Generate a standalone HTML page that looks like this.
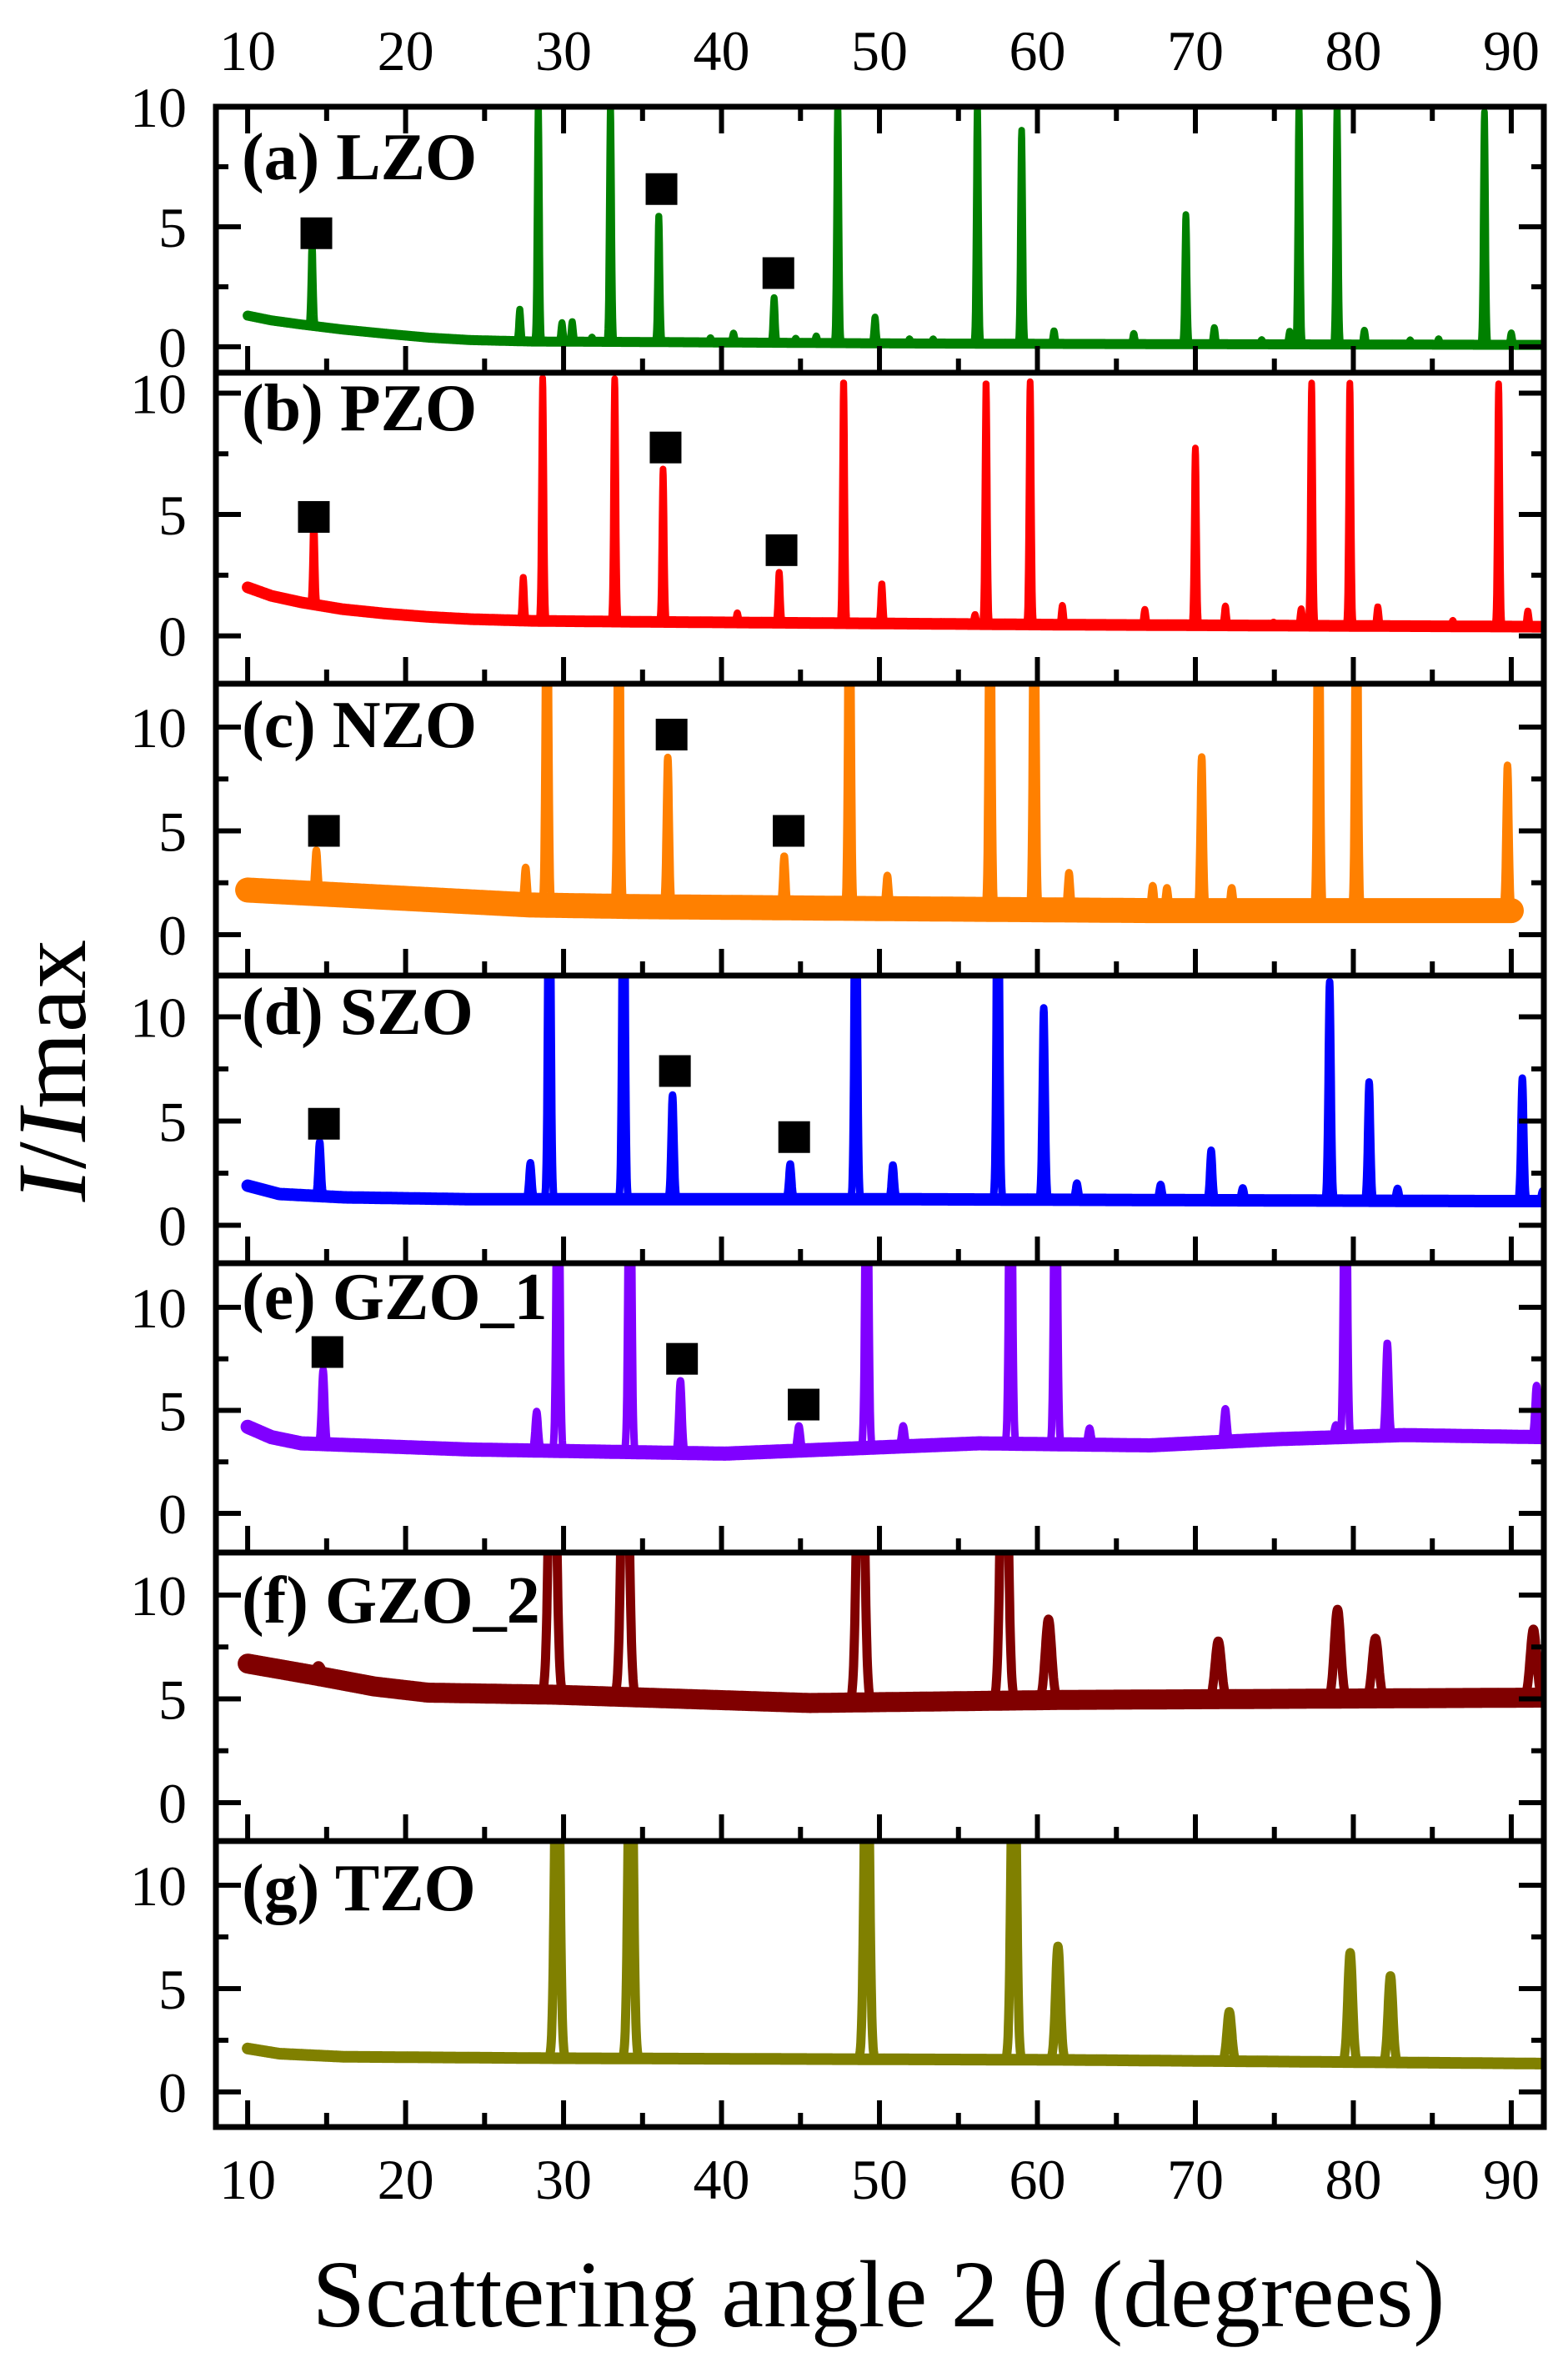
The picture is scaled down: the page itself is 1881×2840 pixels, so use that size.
<!DOCTYPE html>
<html><head><meta charset="utf-8"><style>
html,body{margin:0;padding:0;background:#fff;}
svg{display:block;font-family:"Liberation Serif",serif;}
</style></head><body>
<svg id="chart" width="1881" height="2840" viewBox="0 0 1881 2840" xmlns="http://www.w3.org/2000/svg">
<g id="panels"></g>
<g id="axes"></g>
<text transform="translate(102,1284) rotate(-90)" text-anchor="middle" font-size="118"><tspan font-style="italic">I</tspan>/<tspan font-style="italic">I</tspan>max</text>
<text x="1054" y="2790" text-anchor="middle" font-size="114">Scattering angle 2 θ (degrees)</text>
</svg>
<script>
// ---- x axis ----
const xTicks = [10,20,30,40,50,60,70,80,90];
const xTickLabels = ["10","20","30","40","50","60","70","80","90"];
const yTicks = [0,5,10];
const yTickLabels = ["0","5","10"];
const panelLabels = ["(a) LZO","(b) PZO","(c) NZO","(d) SZO","(e) GZO_1","(f) GZO_2","(g) TZO"];

// ---- peak data (2theta position, normalised height) ----
const lzoPeakPos = [14.08,27.23,28.4,29.9,30.55,31.8,32.97,36.03,39.3,40.76,43.33,44.7,46.0,47.36,49.72,51.9,53.4,56.2,59.0,61.05,66.1,69.4,71.2,74.2,75.97,76.56,78.97,80.7,83.6,85.4,88.3,90.0];
const lzoPeakH   = [3.5,1.35,10,0.8,0.85,0.2,10,5.3,0.2,0.4,1.9,0.2,0.3,10,1.1,0.2,0.2,10,8.9,0.55,0.45,5.4,0.7,0.2,0.55,10,10,0.6,0.2,0.25,9.7,0.5];
const lzoBaseX = [10,11.5,13.4,16,18.8,21.5,24.1,28,34.8,50.9,61.7,91.6];
const lzoBaseY = [1.3,1.1,0.93,0.72,0.54,0.38,0.28,0.22,0.2,0.14,0.12,0.08];
const lzoMarkX = [14.35,36.2,43.6];
const lzoMarkY = [4.73,6.57,3.07];

const pzoPeakPos = [14.19,27.45,28.68,33.24,36.3,41.0,43.65,47.73,50.15,53.9,56.05,56.75,59.54,61.58,66.8,70.0,71.9,74.95,76.7,77.36,79.78,81.55,86.3,89.2,91.05];
const pzoPeakH   = [3.6,1.8,10,10,6.3,0.4,2.1,10,1.65,0.1,0.4,10,10,0.8,0.65,7.3,0.8,0.15,0.7,10,10,0.8,0.25,10,0.65];
const pzoBaseX = [10,11.5,13.4,16,18.7,21.5,24.1,28,34.8,61.7,91.6];
const pzoBaseY = [2.0,1.65,1.38,1.1,0.92,0.78,0.69,0.62,0.58,0.46,0.38];
const pzoMarkX = [14.19,36.46,43.8];
const pzoMarkY = [4.9,7.76,3.53];

const nzoPeakPos = [14.35,27.6,28.95,33.5,36.6,43.97,48.1,50.5,57.0,59.8,62.0,67.3,68.2,70.4,72.3,77.8,80.2,89.76];
const nzoPeakH   = [2.1,1.8,20,20,7.2,2.5,20,1.6,20,20,1.8,1.2,1.1,7.4,1.1,20,20,7.0];
const nzoBaseX = [10,18.7,27.9,34.8,51.0,67.1,90];
const nzoBaseY = [2.15,1.8,1.43,1.35,1.25,1.16,1.16];
const nzoMarkX = [14.83,36.84,44.25];
const nzoMarkY = [5.0,9.64,5.0];

const szoPeakPos = [14.56,27.9,29.1,33.8,36.9,44.35,48.5,50.85,57.5,60.4,62.5,67.8,71.0,73.0,78.5,81.0,82.8,90.7,92];
const szoPeakH   = [2.6,1.75,20,20,5.0,1.7,20,1.65,20,9.2,0.8,0.75,2.4,0.6,10.5,5.7,0.6,5.9,0.5];
const szoBaseX = [10,12,16.1,24.1,51.0,88.5,92];
const szoBaseY = [1.9,1.5,1.34,1.25,1.25,1.16,1.16];
const szoMarkX = [14.83,37.05,44.6];
const szoMarkY = [4.87,7.4,4.23];

const gzo1PeakPos = [14.78,28.3,29.65,34.2,37.4,44.9,49.2,51.5,58.3,61.15,63.3,71.9,78.9,79.5,82.15,91.6];
const gzo1PeakH   = [3.6,1.9,20,20,3.5,1.2,20,1.0,20,20,0.8,1.6,0.6,20,4.5,2.5];
const gzo1BaseX = [10,11.5,13.4,24.1,40.2,56.3,67.1,75.1,83.2,92];
const gzo1BaseY = [4.2,3.7,3.4,3.1,2.9,3.4,3.3,3.6,3.8,3.7];
const gzo1MarkX = [15.05,37.5,45.2];
const gzo1MarkY = [7.83,7.5,5.28];

const gzo2PeakPos = [14.5,29.3,33.9,48.8,57.9,60.7,71.45,79.0,81.4,91.4];
const gzo2PeakH   = [0.5,20,20,20,20,3.9,2.8,4.3,2.9,3.3];
const gzo2BaseX = [10,14.5,18,21.4,29.5,45.6,61.7,92];
const gzo2BaseY = [6.7,6.1,5.6,5.3,5.2,4.8,4.95,5.06];
const gzo2MarkX = [];
const gzo2MarkY = [];

const tzoPeakPos = [29.6,34.25,49.2,58.5,61.3,72.15,79.8,82.35];
const tzoPeakH   = [20,20,20,20,5.5,2.4,5.3,4.2];
const tzoBaseX = [10,12,16.1,29.5,61.7,92];
const tzoBaseY = [2.1,1.85,1.7,1.63,1.55,1.37];
const tzoMarkX = [];
const tzoMarkY = [];

const series = [
  {pos:lzoPeakPos,h:lzoPeakH,bx:lzoBaseX,by:lzoBaseY,mx:lzoMarkX,my:lzoMarkY},
  {pos:pzoPeakPos,h:pzoPeakH,bx:pzoBaseX,by:pzoBaseY,mx:pzoMarkX,my:pzoMarkY},
  {pos:nzoPeakPos,h:nzoPeakH,bx:nzoBaseX,by:nzoBaseY,mx:nzoMarkX,my:nzoMarkY},
  {pos:szoPeakPos,h:szoPeakH,bx:szoBaseX,by:szoBaseY,mx:szoMarkX,my:szoMarkY},
  {pos:gzo1PeakPos,h:gzo1PeakH,bx:gzo1BaseX,by:gzo1BaseY,mx:gzo1MarkX,my:gzo1MarkY},
  {pos:gzo2PeakPos,h:gzo2PeakH,bx:gzo2BaseX,by:gzo2BaseY,mx:gzo2MarkX,my:gzo2MarkY},
  {pos:tzoPeakPos,h:tzoPeakH,bx:tzoBaseX,by:tzoBaseY,mx:tzoMarkX,my:tzoMarkY}
];

// ---- layout (pixels / styles) ----
const layout = [
  {top:128,bot:447,ymin:-1.08,ymax:10,color:"#008000",sw:8,band:12,sig:0.07,xEnd:92,lab:215,name:"lzo"},
  {top:447,bot:820,ymin:-1.97,ymax:10.84,color:"#ff0000",sw:8,band:14,sig:0.07,xEnd:92,lab:516,name:"pzo"},
  {top:820,bot:1170,ymin:-1.97,ymax:12.09,color:"#ff8000",sw:9,band:30,sig:0.09,xEnd:90,lab:896,name:"nzo"},
  {top:1170,bot:1515,ymin:-1.82,ymax:11.98,color:"#0000ff",sw:9,band:15,sig:0.09,xEnd:92,lab:1240,name:"szo"},
  {top:1515,bot:1862,ymin:-1.9,ymax:12.14,color:"#8000ff",sw:9,band:17,sig:0.1,xEnd:92,lab:1582,name:"gzo1"},
  {top:1862,bot:2208,ymin:-1.85,ymax:12.05,color:"#800000",sw:11,band:24,sig:0.2,xEnd:92,lab:1946,name:"gzo2"},
  {top:2208,bot:2551,ymin:-1.7,ymax:12.14,color:"#808000",sw:11,band:14,sig:0.15,xEnd:92,lab:2291,name:"tzo"}
];
const X0=259, X1=1852, XMIN=7.99, XMAX=92.06;
function xs(v){return X0+(v-XMIN)/(XMAX-XMIN)*(X1-X0);}
function ysF(L){return v=>L.bot-(v-L.ymin)/(L.ymax-L.ymin)*(L.bot-L.top);}
function interp(bx,by,x){
  if(x<=bx[0])return by[0];
  for(let i=1;i<bx.length;i++){if(x<=bx[i]){const t=(x-bx[i-1])/(bx[i]-bx[i-1]);return by[i-1]+t*(by[i]-by[i-1]);}}
  return by[by.length-1];
}
const NS="http://www.w3.org/2000/svg";
function mk(tag,attrs,parent){const e=document.createElementNS(NS,tag);for(const k in attrs)e.setAttribute(k,attrs[k]);parent.appendChild(e);return e;}
const gP=document.getElementById("panels"), gA=document.getElementById("axes");
const defs=mk("defs",{},gP);

layout.forEach((L,i)=>{
  const S=series[i], ys=ysF(L);
  const cp=mk("clipPath",{id:"clip"+i},defs);
  mk("rect",{x:X0,y:L.top,width:X1-X0,height:L.bot-L.top},cp);
  const g=mk("g",{"clip-path":"url(#clip"+i+")"},gP);
  
  
  let d="", db="";
  for(let x=10;x<=L.xEnd+1e-9;x+=0.02){
    const b=interp(S.bx,S.by,x);
    let y=b;
    for(let k=0;k<S.pos.length;k++){const dx=(x-S.pos[k])/L.sig;if(Math.abs(dx)<8)y+=S.h[k]*Math.exp(-0.5*dx*dx);}
    d+=(d?"L":"M")+xs(x).toFixed(1)+","+ys(y).toFixed(1);
    db+=(db?"L":"M")+xs(x).toFixed(1)+","+ys(b).toFixed(1);
  }
  const pb=mk("path",{d:db,fill:"none",stroke:L.color,"stroke-width":L.band,"stroke-linejoin":"round","stroke-linecap":"round"},g);
  
  
  const p=mk("path",{d:d,fill:"none",stroke:L.color,"stroke-width":L.sw,"stroke-linejoin":"round","stroke-linecap":"round"},g);
  
  
  for(let k=0;k<S.mx.length;k++){
    const r=mk("rect",{x:xs(S.mx[k])-19,y:ys(S.my[k])-19,width:38,height:38,fill:"#000"},gP);
    
    
  }
  const fr=mk("rect",{x:X0,y:L.top,width:X1-X0,height:L.bot-L.top,fill:"none",stroke:"#000","stroke-width":7},gA);
  
  
  for(let v=0;v<=12;v+=2.5){
    const yy=ys(v); if(yy<L.top+4)continue;
    const len=(v%5===0)?30:15;
    mk("line",{x1:X0,x2:X0+len,y1:yy,y2:yy,stroke:"#000","stroke-width":6},gA);
    mk("line",{x1:X1,x2:X1-len,y1:yy,y2:yy,stroke:"#000","stroke-width":6},gA);
  }
  yTicks.forEach((v,j)=>{
    const t=mk("text",{x:224,y:ys(v)+24,"text-anchor":"end","font-size":68},gA);
    t.textContent=yTickLabels[j];
    
    
  });
  for(let v=10;v<=90;v+=5){
    const xx=xs(v), len=(v%10===0)?32:17;
    mk("line",{x1:xx,x2:xx,y1:L.bot,y2:L.bot-len,stroke:"#000","stroke-width":6},gA);
    if(i===0)mk("line",{x1:xx,x2:xx,y1:L.top,y2:L.top+len,stroke:"#000","stroke-width":6},gA);
  }
  const lt=mk("text",{x:290,y:L.lab,"font-size":80,"font-weight":"bold"},gA);
  lt.textContent=panelLabels[i];
  
  
});
xTicks.forEach((v,j)=>{
  const t1=mk("text",{x:xs(v),y:84,"text-anchor":"middle","font-size":68},gA);
  t1.textContent=xTickLabels[j];
  
  
  const t2=mk("text",{x:xs(v),y:2637,"text-anchor":"middle","font-size":68},gA);
  t2.textContent=xTickLabels[j];
  
  
});
</script>
</body></html>
